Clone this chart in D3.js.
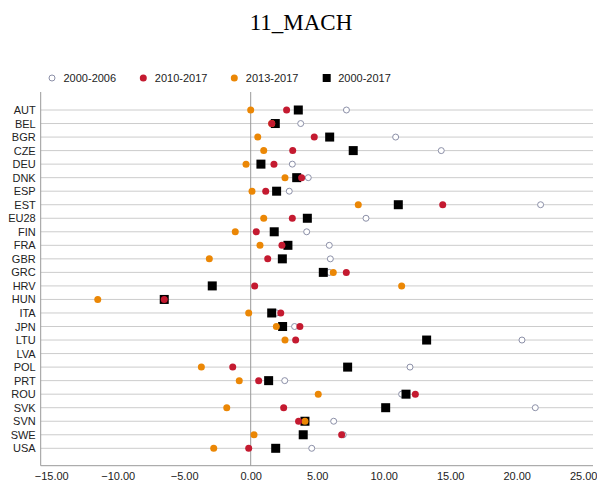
<!DOCTYPE html>
<html>
<head>
<meta charset="utf-8">
<script src="https://cdn.jsdelivr.net/npm/d3@7"></script>
<style>
  body { margin: 0; background: #fff; }
  svg text { font-family: Arial, "Liberation Sans", sans-serif; }
</style>
</head>
<body>
<div id="chart"></div>
<script>
"use strict";

// Countries, top to bottom
var countries = ["AUT","BEL","BGR","CZE","DEU","DNK","ESP","EST","EU28","FIN","FRA","GBR","GRC",
  "HRV","HUN","ITA","JPN","LTU","LVA","POL","PRT","ROU","SVK","SVN","SWE","USA"];

// Series values (null = no value)
var s2000_2006 = [7.2, 3.76, 10.9, 14.33, 3.13, 4.33, 2.9, 21.8, 8.67, 4.21, 5.91, 5.99, 5.91,
  null, null, 1.95, 3.3, 20.4, null, 11.98, 2.56, 11.35, 21.4, 6.24, 6.96, 4.59];
var s2010_2017 = [2.7, 1.58, 4.78, 3.16, 1.75, 3.83, 1.13, 14.44, 3.13, 0.42, 2.35, 1.28, 7.19,
  0.3, -6.5, 2.26, 3.7, 3.38, null, -1.35, 0.6, 12.38, 2.48, 3.6, 6.84, -0.15];
var s2013_2017 = [0.0, 1.58, 0.53, 0.98, -0.35, 2.58, 0.1, 8.09, 0.98, -1.16, 0.7, -3.11, 6.21,
  11.35, -11.5, -0.15, 1.93, 2.58, null, -3.71, -0.86, 5.08, -1.8, 4.08, 0.25, -2.78];
var s2000_2017 = [3.58, 1.85, 5.94, 7.71, 0.77, 3.46, 1.95, 11.1, 4.26, 1.77, 2.8, 2.38, 5.46,
  -2.89, -6.5, 1.58, 2.4, 13.23, null, 7.29, 1.35, 11.68, 10.15, 4.08, 3.95, 1.88];

var xTicks = [-15, -10, -5, 0, 5, 10, 15, 20, 25];
var legendLabels = ["2000-2006", "2010-2017", "2013-2017", "2000-2017"];

var width = 597, height = 490;
var plot = {left: 40.7, right: 593, top: 92, bottom: 465.7};

var svg = d3.select("#chart").append("svg")
  .attr("width", width)
  .attr("height", height);

// Title
svg.append("text")
  .attr("x", 301)
  .attr("y", 30)
  .attr("text-anchor", "middle")
  .style("font-family", "'Liberation Serif', 'Times New Roman', serif")
  .style("font-size", "23px")
  .style("fill", "#000")
  .text("11_MACH");

var x = d3.scaleLinear()
  .domain([-15.79, 25.74])
  .range([plot.left, plot.right]);

var y = d3.scalePoint()
  .domain(countries)
  .range([110, 448.3]);

// Horizontal gridlines
svg.append("g")
  .selectAll("line")
  .data(countries)
  .enter()
  .append("line")
    .attr("x1", plot.left)
    .attr("x2", plot.right)
    .attr("y1", d => y(d))
    .attr("y2", d => y(d))
    .attr("stroke", "#cccccc")
    .attr("stroke-width", 1);

// Zero line
svg.append("line")
  .attr("x1", x(0)).attr("x2", x(0))
  .attr("y1", plot.top).attr("y2", plot.bottom)
  .attr("stroke", "#999")
  .attr("stroke-width", 1);

// Left and bottom axis lines
svg.append("line")
  .attr("x1", plot.left).attr("x2", plot.left)
  .attr("y1", plot.top).attr("y2", plot.bottom)
  .attr("stroke", "#999");
svg.append("line")
  .attr("x1", plot.left).attr("x2", plot.right)
  .attr("y1", plot.bottom).attr("y2", plot.bottom)
  .attr("stroke", "#999");

// X axis labels
var xAxis = d3.axisBottom(x)
  .tickValues(xTicks)
  .tickFormat(d3.format(".2f"))
  .tickSize(0)
  .tickPadding(7);
var gx = svg.append("g")
  .attr("transform", "translate(0," + plot.bottom + ")")
  .call(xAxis);
gx.select(".domain").remove();
gx.selectAll("text")
  .style("font-size", "11px")
  .style("fill", "#222")
  .style("font-family", "Arial, 'Liberation Sans', sans-serif");

// Y axis labels
var yAxis = d3.axisLeft(y).tickSize(0).tickPadding(5);
var gy = svg.append("g")
  .attr("transform", "translate(" + plot.left + ",0)")
  .call(yAxis);
gy.select(".domain").remove();
gy.selectAll("text")
  .style("font-size", "11px")
  .style("fill", "#222")
  .style("font-family", "Arial, 'Liberation Sans', sans-serif");

function pts(values) {
  return countries.map((c, i) => ({c: c, v: values[i]})).filter(d => d.v != null);
}

var red = "#c41a30", orange = "#eb8705", openStroke = "#8c90a8";

// 2000-2006: open circles
svg.append("g").selectAll("circle")
  .data(pts(s2000_2006)).enter()
  .append("circle")
    .attr("cx", d => x(d.v))
    .attr("cy", d => y(d.c))
    .attr("r", 3)
    .attr("fill", "#fff")
    .attr("stroke", openStroke)
    .attr("stroke-width", 1);

// 2000-2017: black squares
svg.append("g").selectAll("rect")
  .data(pts(s2000_2017)).enter()
  .append("rect")
    .attr("x", d => x(d.v) - 4.5)
    .attr("y", d => y(d.c) - 4.5)
    .attr("width", 9)
    .attr("height", 9)
    .attr("fill", "#000");

// 2013-2017: orange dots
svg.append("g").selectAll("circle")
  .data(pts(s2013_2017)).enter()
  .append("circle")
    .attr("cx", d => x(d.v))
    .attr("cy", d => y(d.c))
    .attr("r", 3.5)
    .attr("fill", orange);

// 2010-2017: red dots
svg.append("g").selectAll("circle")
  .data(pts(s2010_2017)).enter()
  .append("circle")
    .attr("cx", d => x(d.v))
    .attr("cy", d => y(d.c))
    .attr("r", 3.5)
    .attr("fill", red);

// Legend
var legendX = [52, 143.3, 234.3, 326.7];
var legend = svg.append("g");
legendLabels.forEach(function(label, i) {
  var lx = legendX[i], ly = 78;
  if (i == 0) {
    legend.append("circle").attr("cx", lx).attr("cy", ly).attr("r", 3)
      .attr("fill", "#fff").attr("stroke", openStroke);
  } else if (i == 1) {
    legend.append("circle").attr("cx", lx).attr("cy", ly).attr("r", 3.5).attr("fill", red);
  } else if (i == 2) {
    legend.append("circle").attr("cx", lx).attr("cy", ly).attr("r", 3.5).attr("fill", orange);
  } else {
    legend.append("rect").attr("x", lx - 4).attr("y", ly - 4)
      .attr("width", 8).attr("height", 8).attr("fill", "#000");
  }
  legend.append("text")
    .attr("x", lx + 11.5)
    .attr("y", ly + 4)
    .style("font-size", "11px")
    .style("fill", "#222")
    .text(label);
});
</script>
</body>
</html>
